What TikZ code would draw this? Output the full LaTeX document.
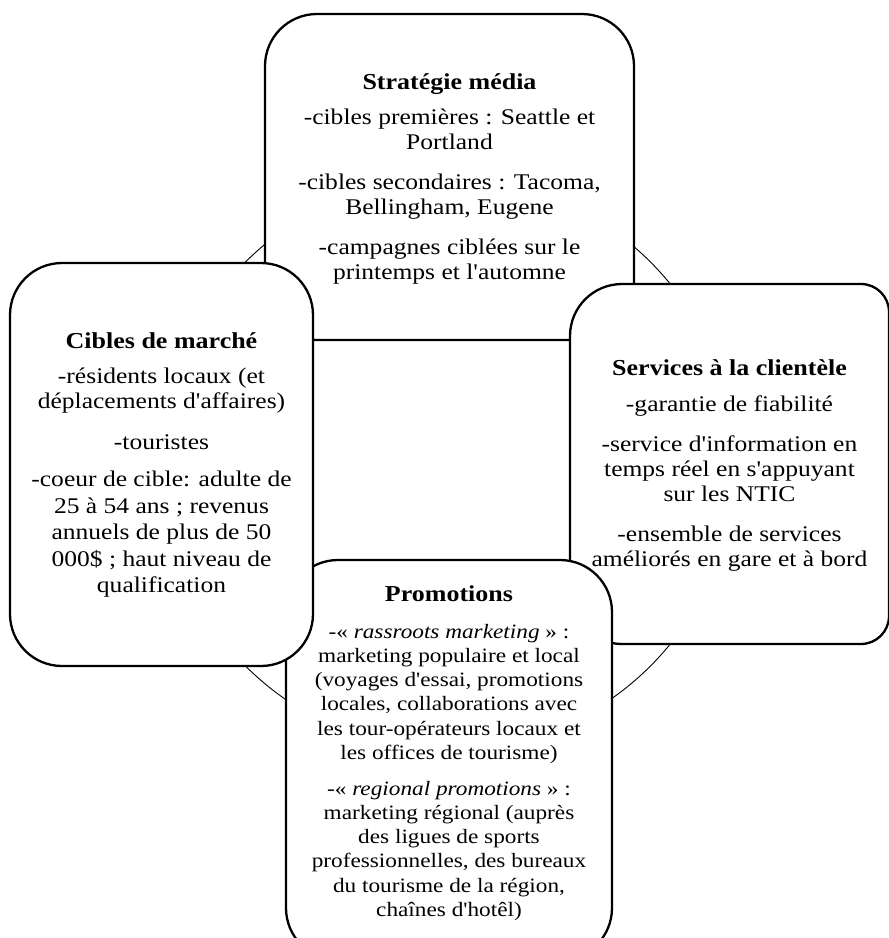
\documentclass[tikz,border=0pt]{standalone}
\usepackage{fontspec}
\setmainfont{Liberation Serif}[Ligatures=TeXOff, FakeStretch=1.14]
\begin{document}
\begin{tikzpicture}[x=1pt,y=-1pt,
  box/.style={draw=black, fill=white, line width=2.3pt, rounded corners=52pt, inner sep=0pt},
  ring/.style={draw=black, line width=0.9pt},
  ttl/.style={anchor=north, align=center, inner sep=0pt, font=\fontsize{22.8}{25}\selectfont\bfseries},
  txt/.style={anchor=north, align=center, inner sep=0pt, font=\fontsize{22.4}{25}\selectfont},
  txts/.style={anchor=north, align=center, inner sep=0pt, font=\fontsize{20.4}{24.2}\selectfont}]
\useasboundingbox (0,0) rectangle (889,938);
\coordinate (c) at (448,464);
\draw[ring] (c) circle[radius=286];
% boxes (drawing order matters)
\node[box, minimum width=369pt, minimum height=326pt] (top) at (449.5,177) {};
\path[draw=black, fill=white, line width=2.3pt]
  (570,464) [rounded corners=52pt] -- (570,284) [rounded corners=28pt] -- (889,284) -- (889,644) [rounded corners=52pt] -- (570,644) -- cycle;
\coordinate (right) at (729.5,464);
\node[box, minimum width=326pt, minimum height=400pt] (bottom) at (449,760) {};
\node[box, minimum width=303pt, minimum height=403pt] (left) at (161.5,464.5) {};
% top box text
\node[ttl] (t0) at (449.5,73) {Stratégie média};
\node[txt] (t1) at (449.5,109) {-cibles premières : Seattle et\\Portland};
\node[txt] (t2) at (449.5,174) {-cibles secondaires : Tacoma,\\Bellingham, Eugene};
\node[txt] (t3) at (449.5,239) {-campagnes ciblées sur le\\printemps et l'automne};
% left box text
\node[ttl] (l0) at (161.5,332) {Cibles de marché};
\node[txt] (l1) at (161.5,368) {-résidents locaux (et\\déplacements d'affaires)};
\node[txt] (l2) at (161.5,434) {-touristes};
\node[txt, font=\fontsize{22.4}{26.5}\selectfont] (l3) at (161.5,471) {-coeur de cible: adulte de\\25 à 54 ans ; revenus\\annuels de plus de 50\\000\$ ; haut niveau de\\qualification};
% right box text
\node[ttl] (r0) at (729.5,359) {Services à la clientèle};
\node[txt] (r1) at (729.5,396) {-garantie de fiabilité};
\node[txt] (r2) at (729.5,436) {-service d'information en\\temps réel en s'appuyant\\sur les NTIC};
\node[txt] (r3) at (729.5,526) {-ensemble de services\\améliorés en gare et à bord};
% bottom box text
\node[ttl] (b0) at (449,585) {Promotions};
\node[txts] (b1) at (449,624) {-«~\textit{rassroots marketing}~» :\\marketing populaire et local\\(voyages d'essai, promotions\\locales, collaborations avec\\les tour-opérateurs locaux et\\les offices de tourisme)};
\node[txts] (b2) at (449,781) {-«~\textit{regional promotions}~» :\\marketing régional (auprès\\des ligues de sports\\professionnelles, des bureaux\\du tourisme de la région,\\chaînes d'hotêl)};
\end{tikzpicture}
\end{document}
